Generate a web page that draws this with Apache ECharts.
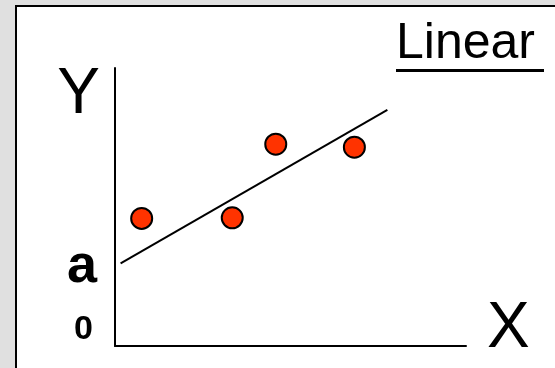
<!DOCTYPE html>
<html>
<head>
<meta charset="utf-8">
<script src="https://cdn.jsdelivr.net/npm/echarts@6/dist/echarts.min.js"></script>
<style>
  html, body { margin: 0; padding: 0; background: #e0e0e0; overflow: hidden; }
  .panel { position: absolute; left: 15px; top: 5px; width: 700px; height: 500px; background: #fff; border: 2px solid #000; }
  #chart { position: absolute; left: 0; top: 0; width: 555px; height: 368px; }
</style>
</head>
<body>
<div class="panel"></div>
<div id="chart"></div>
<script>
// observed points
var xValues = [0.76, 3.34, 4.58, 6.82]
var yValues = [4.59, 4.61, 7.26, 7.15]
// fitted line end points
var fitX = [0.16, 7.76]
var fitY = [2.97, 8.49]
// y axis marks: origin and intercept a
var yTicks = [0, 2.85]
var yTickLabels = ['0', 'a']

var font = 'Liberation Sans, Arial, sans-serif'

var points = xValues.map(function (x, i) { return [x, yValues[i]] })
var fitLine = fitX.map(function (x, i) { return [x, fitY[i]] })

var myChart = echarts.init(document.getElementById('chart'))
myChart.setOption({
  animation: false,
  title: {
    text: 'Linear\n{u|}',
    left: 391,
    top: 14,
    textStyle: {
      fontFamily: font,
      fontSize: 50,
      fontWeight: 'normal',
      color: '#000',
      lineHeight: 50,
      rich: {
        u: { width: 148, height: 3, lineHeight: 3, backgroundColor: '#000' }
      }
    }
  },
  grid: {
    left: 115,
    right: 89,
    top: 68,
    bottom: 22,
    outerBoundsMode: 'none'
  },
  xAxis: {
    type: 'value',
    min: 0,
    max: 10,
    name: 'X',
    nameLocation: 'end',
    nameGap: 21,
    nameTextStyle: {
      fontFamily: font,
      fontSize: 64,
      color: '#000',
      align: 'left',
      verticalAlign: 'bottom',
      lineHeight: 33
    },
    axisLine: { show: true, lineStyle: { color: '#000', width: 2 } },
    axisTick: { show: false },
    axisLabel: { show: false },
    splitLine: { show: false }
  },
  yAxis: {
    type: 'value',
    min: 0,
    max: 10,
    name: 'Y',
    nameLocation: 'end',
    nameGap: -27,
    nameTextStyle: {
      fontFamily: font,
      fontSize: 64,
      color: '#000',
      align: 'right',
      verticalAlign: 'middle',
      padding: [0, 15, 0, 0]
    },
    axisLine: { show: true, lineStyle: { color: '#000', width: 2 } },
    axisTick: { show: false },
    splitLine: { show: false },
    axisLabel: {
      customValues: yTicks,
      margin: 18,
      formatter: function (value) {
        var idx = yTicks.indexOf(value)
        return idx === 0 ? '{z|' + yTickLabels[0] + '}' : '{a|' + yTickLabels[idx] + '}'
      },
      rich: {
        z: { fontFamily: font, fontSize: 34, fontWeight: 'bold', color: '#000', padding: [0, 4, 32, 0] },
        a: { fontFamily: font, fontSize: 54, fontWeight: 'bold', color: '#000' }
      }
    }
  },
  series: [
    {
      name: 'fit',
      type: 'line',
      data: fitLine,
      symbol: 'none',
      lineStyle: { color: '#000', width: 2 },
      z: 2
    },
    {
      name: 'points',
      type: 'scatter',
      data: points,
      symbolSize: 21,
      itemStyle: { color: '#ff3300', borderColor: '#000', borderWidth: 2, opacity: 1 },
      z: 3
    }
  ]
})
</script>
</body>
</html>
